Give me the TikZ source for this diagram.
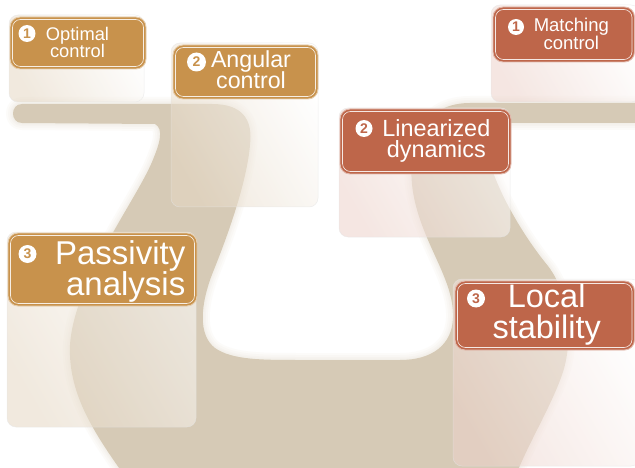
\documentclass[tikz,border=0pt]{standalone}
\usepackage{fontspec}
\setmainfont{Liberation Sans}
\definecolor{beige}{HTML}{D6CAB6}
\definecolor{gold}{HTML}{C8924C}
\definecolor{rust}{HTML}{BE664A}
\definecolor{goldpanel}{HTML}{E6D8C4}
\definecolor{rustpanel}{HTML}{EDD3CB}
\tikzset{
  panelG/.style={rounded corners=9pt, left color=goldpanel, right color=white, shading angle=120, fill opacity=0.55},
  panelR/.style={rounded corners=9pt, left color=rustpanel, right color=white, shading angle=120, fill opacity=0.55},
  panelrim/.style={rounded corners=9pt, draw=black!10, line width=0.5pt, draw opacity=0.6},
  labelG/.style={rounded corners=10pt, fill=gold, draw=gold!45!white, line width=0.9pt},
  labelR/.style={rounded corners=10pt, fill=rust, draw=rust!45!white, line width=0.9pt},
  innerline/.style={rounded corners=8pt, draw=white, line width=0.6pt, draw opacity=0.85},
  numG/.style={circle, fill=white, text=gold, inner sep=0pt, font=\bfseries\fontsize{14}{14}\selectfont},
  numR/.style={circle, fill=white, text=rust, inner sep=0pt, font=\bfseries\fontsize{14}{14}\selectfont},
  txt/.style={text=white, anchor=base, inner sep=0pt, align=center},
  halo/.style={beige, line join=round, draw opacity=0.07},
}
\newcommand{\fsz}[2]{\fontsize{#1}{#2}\selectfont\lineskiplimit=-100pt\lineskip=0pt}
\begin{document}
\begin{tikzpicture}[x=1pt,y=-1pt]
\useasboundingbox (0,0) rectangle (635,468);
\fill[white] (0,0) rectangle (635,468);
% background beige shape
\def\shapepath{(22,104) -- (212,104)
  .. controls (243,104) and (253,120) .. (250,145)
  .. controls (247,180) and (230,230) .. (213,272)
  .. controls (200,305) and (198,335) .. (215,348)
  .. controls (232,360) and (262,360) .. (300,360)
  -- (400,360)
  .. controls (432,360) and (452,345) .. (453,318)
  .. controls (454,292) and (440,268) .. (428,240)
  .. controls (415,210) and (407,180) .. (414,150)
  .. controls (421,117) and (442,103) .. (470,103)
  -- (645,103) -- (645,123) -- (505,123)
  .. controls (490,123) and (483,131) .. (486,147)
  .. controls (492,182) and (520,232) .. (548,266)
  .. controls (570,295) and (573,340) .. (563,372)
  .. controls (552,405) and (530,440) .. (516,475)
  -- (124,475)
  .. controls (92,430) and (68,392) .. (70,345)
  .. controls (74,282) and (135,202) .. (152,162)
  .. controls (160,143) and (164,129) .. (155,124)
  -- (22,123) .. controls (10,123) and (10,104) .. (22,104) -- cycle}
\draw[halo, line width=14pt] \shapepath;
\draw[halo, line width=10pt] \shapepath;
\draw[halo, line width=6pt] \shapepath;
\draw[halo, line width=3pt] \shapepath;
\fill[beige] \shapepath;
% panels
\path[panelG] (9,15) rectangle (144,102);
\path[panelrim] (9,15) rectangle (144,102);
\path[panelG] (171,43) rectangle (318,207);
\path[panelrim] (171,43) rectangle (318,207);
\path[panelG] (7,232) rectangle (196,427);
\path[panelrim] (7,232) rectangle (196,427);
\path[panelR] (491,5) rectangle (640,102);
\path[panelrim] (491,5) rectangle (640,102);
\path[panelR] (339,108) rectangle (510,237);
\path[panelrim] (339,108) rectangle (510,237);
\path[panelR] (453,279) rectangle (640,466);
\path[panelrim] (453,279) rectangle (640,466);
% label boxes
\path[labelG] (10,17) rectangle (146,69);
\path[innerline] (12.5,19.5) rectangle (143.5,66.5);
\path[labelG] (173,45) rectangle (318,99);
\path[innerline] (175.5,47.5) rectangle (315.5,96.5);
\path[labelG] (8,233) rectangle (197,306);
\path[innerline] (10.5,235.5) rectangle (194.5,303.5);
\path[labelR] (493,7) rectangle (634.5,62);
\path[innerline] (495.5,9.5) rectangle (632,59.5);
\path[labelR] (340,109) rectangle (511,174);
\path[innerline] (342.5,111.5) rectangle (508.5,171.5);
\path[labelR] (455,281) rectangle (634.5,350);
\path[innerline] (457.5,283.5) rectangle (632,347.5);
% texts
\node[txt, text width=100pt, font=\fsz{18.3}{17}] (t1) at (77.5,40.5) {Optimal\\control};
\node[numG, minimum size=17pt] (n1) at (27,33.5) {1};
\node[txt, text width=110pt, font=\fsz{23.2}{21}] (t2) at (251,67.5) {Angular\\control};
\node[numG, minimum size=19pt] (n2) at (196.5,62) {2};
\node[txt, text width=160pt, align=right, anchor=base east, font=\fsz{33}{31}] (t3) at (185.5,264.5) {Passivity\\analysis};
\node[numG, minimum size=18pt] (n3) at (27.5,254) {3};
\node[txt, text width=100pt, font=\fsz{18.5}{17.5}] (t4) at (571.3,31.7) {Matching\\control};
\node[numR, minimum size=16pt] (n4) at (516,27) {1};
\node[txt, text width=130pt, font=\fsz{23.4}{21.5}] (t5) at (436.3,136.5) {Linearized\\dynamics};
\node[numR, minimum size=17pt] (n5) at (364,128.5) {2};
\node[txt, text width=140pt, font=\fsz{32.5}{31}] (t6) at (546.7,307.5) {Local\\stability};
\node[numR, minimum size=18pt] (n6) at (476,298.5) {3};
\end{tikzpicture}
\end{document}
